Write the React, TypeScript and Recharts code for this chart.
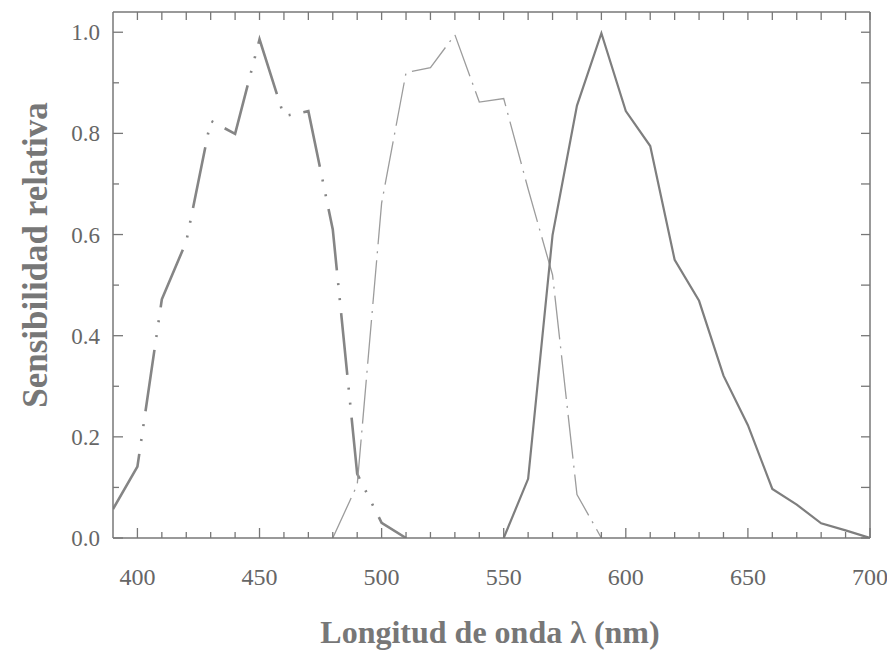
import React from 'react';
import { LineChart, Line, XAxis, YAxis } from 'recharts';

// Wavelength grid (nm)
const wavelengths = [390, 400, 410, 420, 430, 440, 450, 460, 470, 480, 490, 500, 510, 520, 530, 540, 550, 560, 570, 580, 590, 600, 610, 620, 630, 640, 650, 660, 670, 680, 690, 700];

// Blue-sensitive curve (dash-dot-dot)
const blueNm = [390, 400, 410, 420, 430, 440, 450, 460, 470, 480, 490, 500, 510];
const blueSens = [0.057, 0.141, 0.472, 0.586, 0.825, 0.799, 0.986, 0.834, 0.844, 0.61, 0.127, 0.03, 0];

// Green-sensitive curve (dash-dot)
const greenNm = [480, 490, 500, 510, 520, 530, 540, 550, 560, 570, 580, 590];
const greenSens = [0, 0.105, 0.662, 0.92, 0.93, 0.995, 0.862, 0.869, 0.69, 0.52, 0.086, 0];

// Red-sensitive curve (solid)
const redNm = [550, 560, 570, 580, 590, 600, 610, 620, 630, 640, 650, 660, 670, 680, 690, 700];
const redSens = [0, 0.117, 0.599, 0.855, 0.998, 0.844, 0.775, 0.55, 0.469, 0.321, 0.223, 0.097, 0.066, 0.029, 0.015, 0];

// Axis ticks
const xTicks = [400, 410, 420, 430, 440, 450, 460, 470, 480, 490, 500, 510, 520, 530, 540, 550, 560, 570, 580, 590, 600, 610, 620, 630, 640, 650, 660, 670, 680, 690, 700];
const yTicks = [0, 0.1, 0.2, 0.3, 0.4, 0.5, 0.6, 0.7, 0.8, 0.9, 1.0];

const xTitle = 'Longitud de onda λ (nm)';
const yTitle = 'Sensibilidad relativa';

const pick = (nms: number[], vals: number[], nm: number) => {
  const i = nms.indexOf(nm);
  return i >= 0 ? vals[i] : null;
};

const data = wavelengths.map((nm) => ({
  nm,
  blue: pick(blueNm, blueSens, nm),
  green: pick(greenNm, greenSens, nm),
  red: pick(redNm, redSens, nm),
}));

const AXIS = '#777';
const LABEL = '#666';
const FONT = '"Liberation Serif", "Times New Roman", serif';

const BottomTick = (props: any) => {
  const { x, y, payload } = props;
  const v = payload.value;
  const major = v % 50 === 0;
  return (
    <g>
      <line x1={x} y1={y} x2={x} y2={y - (major ? 10 : 6)} stroke={AXIS} strokeWidth={1.3} />
      {major && (
        <text x={x} y={y + 39} dy="0.35em" textAnchor="middle" fontFamily={FONT} fontSize={24} fill={LABEL}>
          {v}
        </text>
      )}
    </g>
  );
};

const TopTick = (props: any) => {
  const { x, y } = props;
  return <line x1={x} y1={y} x2={x} y2={y + 8} stroke={AXIS} strokeWidth={1.3} />;
};

const LeftTick = (props: any) => {
  const { x, y, payload } = props;
  const v = payload.value;
  const major = Math.round(v * 10) % 2 === 0;
  return (
    <g>
      <line x1={x} y1={y} x2={x + (major ? 10 : 6)} y2={y} stroke={AXIS} strokeWidth={1.3} />
      {major && (
        <text x={x - 13} y={y} dy="0.35em" textAnchor="end" fontFamily={FONT} fontSize={23} fill={LABEL}>
          {v.toFixed(1)}
        </text>
      )}
    </g>
  );
};

const RightTick = (props: any) => {
  const { x, y } = props;
  return <line x1={x} y1={y} x2={x - 9} y2={y} stroke={AXIS} strokeWidth={1.3} />;
};

export default function App() {
  return (
    <div style={{ width: 887, height: 649 }}>
      <LineChart width={887} height={649} data={data} margin={{ top: 3, right: 24, bottom: 118, left: 104 }}>
        <XAxis
          xAxisId="b"
          dataKey="nm"
          type="number"
          domain={[390, 700]}
          allowDataOverflow
          ticks={xTicks}
          interval={0}
          height={1}
          tickSize={0}
          tickMargin={0}
          tick={<BottomTick />}
          tickLine={false}
          axisLine={{ stroke: AXIS, strokeWidth: 1.5 }}
        />
        <XAxis
          xAxisId="t"
          orientation="top"
          dataKey="nm"
          type="number"
          domain={[390, 700]}
          allowDataOverflow
          ticks={xTicks}
          interval={0}
          height={1}
          tickSize={0}
          tickMargin={0}
          tick={<TopTick />}
          tickLine={false}
          axisLine={{ stroke: AXIS, strokeWidth: 1.5 }}
        />
        <YAxis
          yAxisId="l"
          type="number"
          domain={[0, 1.04]}
          allowDataOverflow
          ticks={yTicks}
          interval={0}
          width={1}
          tickSize={0}
          tickMargin={0}
          tick={<LeftTick />}
          tickLine={false}
          axisLine={{ stroke: AXIS, strokeWidth: 1.5 }}
        />
        <YAxis
          yAxisId="r"
          orientation="right"
          type="number"
          domain={[0, 1.04]}
          allowDataOverflow
          ticks={yTicks}
          interval={0}
          width={1}
          tickSize={0}
          tickMargin={0}
          tick={<RightTick />}
          tickLine={false}
          axisLine={{ stroke: AXIS, strokeWidth: 1.5 }}
        />
        <Line
          xAxisId="b"
          yAxisId="l"
          dataKey="blue"
          type="linear"
          stroke="#858585"
          strokeWidth={2.6}
          strokeDasharray="62 13 2 13 2 13"
          dot={false}
          activeDot={false}
          isAnimationActive={false}
        />
        <Line
          xAxisId="b"
          yAxisId="l"
          dataKey="green"
          type="linear"
          stroke="#9c9c9c"
          strokeWidth={1.3}
          strokeDasharray="44 7 2 7"
          dot={false}
          activeDot={false}
          isAnimationActive={false}
        />
        <Line
          xAxisId="b"
          yAxisId="l"
          dataKey="red"
          type="linear"
          stroke="#7e7e7e"
          strokeWidth={2.2}
          dot={false}
          activeDot={false}
          isAnimationActive={false}
        />
        <text x={482} y={624} dy="0.35em" textAnchor="middle" fontFamily={FONT} fontWeight="bold" fontSize={32} fill={AXIS}>
          {xTitle}
        </text>
        <text
          x={27}
          y={247}
          dy="0.35em"
          textAnchor="middle"
          fontFamily={FONT}
          fontWeight="bold"
          fontSize={35}
          fill={AXIS}
          transform="rotate(-90 27 247)"
        >
          {yTitle}
        </text>
      </LineChart>
    </div>
  );
}
